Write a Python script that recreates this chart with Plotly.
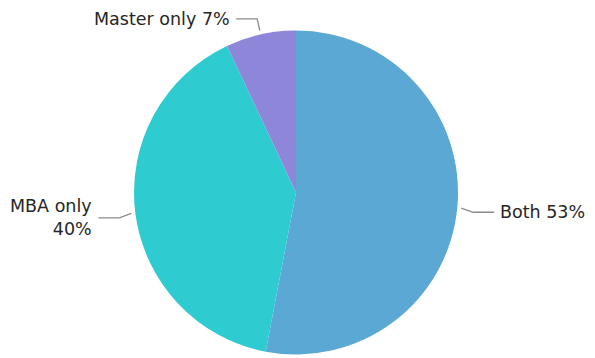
import math
import plotly.graph_objects as go

labels = ["Both", "MBA only", "Master only"]
values = [53, 40, 7]
colors = ["#5ba8d4", "#2ecbd0", "#8e86d8"]
label_text = ["Both 53%", "MBA only<br>40%", "Master only 7%"]

W, H = 595, 358
OFF = 8  # default page body margin offsets the plot div
cx, cy, r = 296 - OFF, 192.5 - OFF, 162

fig = go.Figure(go.Pie(
    labels=labels, values=values, sort=False, direction="clockwise", rotation=0,
    marker=dict(colors=colors, line=dict(width=0)), textinfo="none", hoverinfo="label+percent",
    domain=dict(x=[(cx - r) / W, (cx + r) / W], y=[1 - (cy + r) / H, 1 - (cy - r) / H]),
    showlegend=False,
))

def px(x):
    return x / W

def py(y):
    return 1 - y / H

total = sum(values)
cum = 0
shapes, annotations = [], []
for lab, v, txt in zip(labels, values, label_text):
    mid = (cum + v / 2) / total * 2 * math.pi
    cum += v
    s, c = math.sin(mid), math.cos(mid)
    ax, ay = cx + (r + 4) * s, cy - (r + 4) * c
    bx, by = cx + (r + 16) * s, cy - (r + 16) * c
    if abs(s) > 0.9:
        by += 3
    side = 1 if s >= 0 else -1
    ex = bx + side * 21
    path = f"M {px(ax)} {py(ay)} L {px(bx)} {py(by)} L {px(ex)} {py(by)}"
    shapes.append(dict(type="path", xref="paper", yref="paper", path=path,
                       line=dict(color="#8a8a8a", width=1.3)))
    annotations.append(dict(x=px(ex + side * 4), y=py(by), xref="paper", yref="paper",
                            text=txt, showarrow=False,
                            xanchor="left" if side > 0 else "right", yanchor="middle",
                            align="left" if side > 0 else "right",
                            font=dict(family="DejaVu Sans", size=17.5, color="#262626")))

fig.update_layout(width=W, height=H, margin=dict(l=0, r=0, t=0, b=0),
                  paper_bgcolor="white", plot_bgcolor="white",
                  shapes=shapes, annotations=annotations)
fig.write_html("out.html")
